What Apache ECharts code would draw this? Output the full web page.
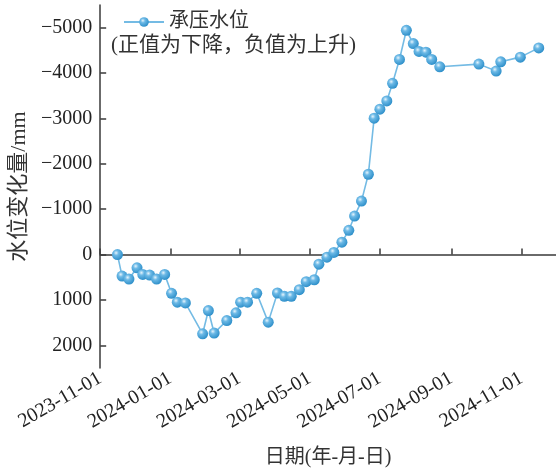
<!DOCTYPE html>
<html>
<head>
<meta charset="utf-8">
<script src="https://cdn.jsdelivr.net/npm/echarts@6/dist/echarts.min.js"></script>
<style>html,body{margin:0;padding:0;background:#fff}#c{width:556px;height:473px}</style>
</head>
<body>
<div id="c"></div>
<script>
const dates = ['2023-11-16','2023-11-20','2023-11-26','2023-12-03','2023-12-08','2023-12-14','2023-12-20','2023-12-27',
 '2024-01-02','2024-01-07','2024-01-14','2024-01-29','2024-02-03','2024-02-08','2024-02-19','2024-02-27',
 '2024-03-02','2024-03-08','2024-03-16','2024-03-26','2024-04-03','2024-04-09','2024-04-15','2024-04-22',
 '2024-04-28','2024-05-05','2024-05-09','2024-05-16','2024-05-22','2024-05-29','2024-06-04','2024-06-09',
 '2024-06-15','2024-06-21','2024-06-26','2024-07-01','2024-07-07','2024-07-12','2024-07-18','2024-07-24',
 '2024-07-30','2024-08-04','2024-08-10','2024-08-15','2024-08-22','2024-09-25','2024-10-10','2024-10-14',
 '2024-10-31','2024-11-16'];
const values = [0,474,540,291,437,452,540,437,
 853,1050,1066,1746,1234,1730,1454,1285,
 1050,1050,853,1489,847,919,919,774,
 598,555,211,57,-46,-272,-535,-849,
 -1178,-1770,-3006,-3204,-3386,-3774,-4300,-4943,
 -4651,-4476,-4460,-4300,-4138,-4197,-4044,-4248,
 -4351,-4555];
const xTickDates = ['2023-11-01','2024-01-01','2024-03-01','2024-05-01','2024-07-01','2024-09-01','2024-11-01'];
const yTicks = [-5000,-4000,-3000,-2000,-1000,0,1000,2000];
const seriesName = '承压水位';
const noteText = '(正值为下降，负值为上升)';
const xName = '日期(年-月-日)';
const yName = '水位变化量/mm';

function ts(s){const p=s.split('-').map(Number);return Date.UTC(p[0],p[1]-1,p[2]);}
function fmt(v){const d=new Date(v);const m=d.getUTCMonth()+1,dd=d.getUTCDate();
  return d.getUTCFullYear()+'-'+(m<10?'0':'')+m+'-'+(dd<10?'0':'')+dd;}
const FONT = "'Liberation Serif','Times New Roman','Noto Sans CJK SC',serif";
const AX = '#3a3a3a';
const symColor = {type:'radial',x:0.38,y:0.35,r:0.65,colorStops:[
  {offset:0,color:'#e6f4fc'},{offset:0.35,color:'#6cb9e6'},{offset:1,color:'#2f90ca'}]};

const chart = echarts.init(document.getElementById('c'));
chart.setOption({
  backgroundColor:'#fff',
  animation:false,
  textStyle:{fontFamily:FONT},
  grid:{left:100,right:0,top:5,bottom:104,containLabel:false},
  legend:{left:118,top:7,itemWidth:40,itemHeight:12,itemGap:0,
    textStyle:{fontFamily:FONT,fontSize:20,color:'#333'},
    data:[seriesName]},
  graphic:[{type:'text',left:111,top:35,style:{text:noteText,fontFamily:FONT,fontSize:21,fill:'#333'}}],
  xAxis:{type:'value',min:ts('2023-11-01'),max:ts('2024-12-01'),
    name:xName,nameLocation:'middle',nameGap:80,
    nameTextStyle:{fontFamily:FONT,fontSize:20,color:'#333'},
    axisLine:{lineStyle:{color:AX,width:1.5}},
    axisTick:{show:true,inside:true,length:6,lineStyle:{color:AX,width:1.5},customValues:xTickDates.map(ts)},
    axisLabel:{rotate:30,fontFamily:FONT,fontSize:20,color:'#222',margin:9,
      customValues:xTickDates.map(ts),formatter:function(v){return fmt(v);}},
    splitLine:{show:false}},
  yAxis:{type:'value',inverse:true,min:-5500,max:2500,
    name:yName,nameLocation:'middle',nameGap:58,nameRotate:90,
    nameTextStyle:{fontFamily:FONT,fontSize:22,color:'#333'},
    axisLine:{show:true,lineStyle:{color:AX,width:1.5}},
    axisTick:{show:true,inside:true,length:6,lineStyle:{color:AX,width:1.5},customValues:yTicks},
    axisLabel:{fontFamily:FONT,fontSize:20,color:'#222',margin:8,customValues:yTicks,
      formatter:function(v){return v<0?'\u2212'+Math.abs(v):String(v);}},
    splitLine:{show:false}},
  series:[{name:seriesName,type:'line',
    data:dates.map((d,i)=>[ts(d),values[i]]),
    symbol:'circle',symbolSize:11,
    lineStyle:{color:'#74bbe4',width:1.6},
    itemStyle:{color:symColor,borderWidth:0},
    emphasis:{disabled:true}}]
});
</script>
</body>
</html>
